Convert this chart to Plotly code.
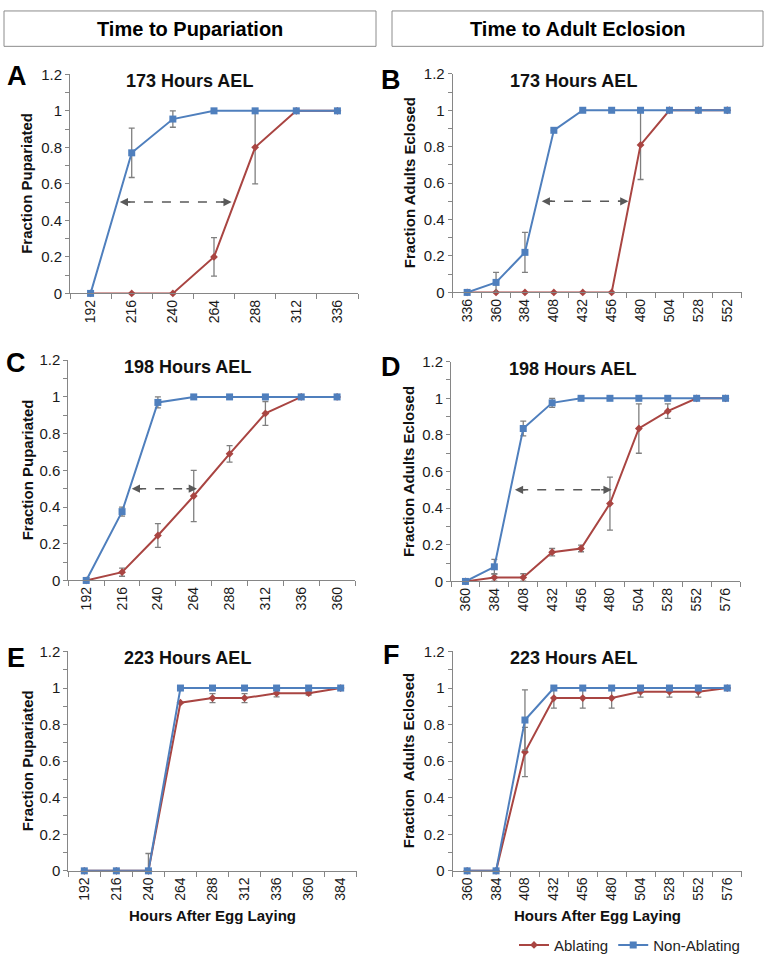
import plotly.graph_objects as go

W, H = 764, 965
FONT = "Liberation Sans, Arial, sans-serif"
RED = "#A94542"
BLUE = "#4F7FBD"
GREY = "#7F7F7F"
AXIS = "#868686"

# ---------------- data ----------------
# Panel A: pupariation, 173 h AEL
hours_A = ["192", "216", "240", "264", "288", "312", "336"]
abl_A = [0, 0, 0, 0.20, 0.80, 1.0, 1.0]
abl_A_err = [None, None, None, 0.105, 0.20, None, None]
non_A = [0, 0.77, 0.955, 1.0, 1.0, 1.0, 1.0]
non_A_err = [None, 0.135, 0.045, None, None, None, None]
arrow_A = [0.71, 3.43]

# Panel B: eclosion, 173 h AEL
hours_B = ["336", "360", "384", "408", "432", "456", "480", "504", "528", "552"]
abl_B = [0, 0, 0, 0, 0, 0, 0.81, 1.0, 1.0, 1.0]
abl_B_err = [None, None, None, None, None, None, 0.19, None, None, None]
non_B = [0, 0.055, 0.22, 0.89, 1.0, 1.0, 1.0, 1.0, 1.0, 1.0]
non_B_err = [None, 0.055, 0.11, None, None, None, None, None, None, None]
arrow_B = [2.58, 5.58]

# Panel C: pupariation, 198 h AEL
hours_C = ["192", "216", "240", "264", "288", "312", "336", "360"]
abl_C = [0, 0.045, 0.245, 0.46, 0.69, 0.91, 1.0, 1.0]
abl_C_err = [None, 0.022, 0.065, 0.14, 0.045, 0.065, None, None]
non_C = [0, 0.375, 0.97, 1.0, 1.0, 1.0, 1.0, 1.0]
non_C_err = [None, 0.025, 0.03, None, None, None, None, None]
arrow_C = [1.27, 3.09]

# Panel D: eclosion, 198 h AEL
hours_D = ["360", "384", "408", "432", "456", "480", "504", "528", "552", "576"]
abl_D = [0, 0.022, 0.022, 0.16, 0.18, 0.425, 0.835, 0.93, 1.0, 1.0]
abl_D_err = [None, 0.02, 0.02, 0.02, 0.018, 0.145, 0.135, 0.04, None, None]
non_D = [0, 0.08, 0.835, 0.975, 1.0, 1.0, 1.0, 1.0, 1.0, 1.0]
non_D_err = [None, 0.04, 0.04, 0.025, None, None, None, None, None, None]
arrow_D = [1.71, 5.06]

# Panel E: pupariation, 223 h AEL
hours_E = ["192", "216", "240", "264", "288", "312", "336", "360", "384"]
abl_E = [0, 0, 0, 0.92, 0.945, 0.945, 0.972, 0.972, 1.0]
abl_E_err = [None, None, 0.095, None, 0.025, 0.025, 0.02, 0.01, None]
non_E = [0, 0, 0, 1.0, 1.0, 1.0, 1.0, 1.0, 1.0]
non_E_err = [None] * 9

# Panel F: eclosion, 223 h AEL
hours_F = ["360", "384", "408", "432", "456", "480", "504", "528", "552", "576"]
abl_F = [0, 0, 0.65, 0.945, 0.945, 0.945, 0.98, 0.98, 0.98, 1.0]
abl_F_err = [None, None, 0.135, 0.055, 0.055, 0.055, 0.03, 0.03, 0.03, None]
non_F = [0, 0, 0.825, 1.0, 1.0, 1.0, 1.0, 1.0, 1.0, 1.0]
non_F_err = [None, None, 0.165, None, None, None, None, None, None, None]

panel_letters = ["A", "B", "C", "D", "E", "F"]
panel_titles = ["173 Hours AEL", "173 Hours AEL", "198 Hours AEL",
                "198 Hours AEL", "223 Hours AEL", "223 Hours AEL"]
y_titles = ["Fraction Pupariated", "Fraction Adults Eclosed",
            "Fraction Pupariated", "Fraction Adults Eclosed",
            "Fraction Pupariated", "Fraction  Adults Eclosed"]
column_headers = ["Time to Pupariation", "Time to Adult Eclosion"]
x_title = "Hours After Egg Laying"
series_names = ["Ablating", "Non-Ablating"]

panels = [
    (hours_A, abl_A, abl_A_err, non_A, non_A_err, arrow_A),
    (hours_B, abl_B, abl_B_err, non_B, non_B_err, arrow_B),
    (hours_C, abl_C, abl_C_err, non_C, non_C_err, arrow_C),
    (hours_D, abl_D, abl_D_err, non_D, non_D_err, arrow_D),
    (hours_E, abl_E, abl_E_err, non_E, non_E_err, None),
    (hours_F, abl_F, abl_F_err, non_F, non_F_err, None),
]

# ---------------- layout geometry (pixels) ----------------
# (x_left, x_right, y_top(1.2), y_bottom(0))
boxes = [
    (70, 358, 66.5, 289.5),
    (452.7, 741.7, 66, 288.5),
    (68.3, 355, 357.5, 581.7),
    (451, 740, 359, 582.7),
    (68.3, 356.7, 654, 877.3),
    (452.7, 741.7, 654, 877.3),
]
letter_pos = [(17, 68), (391, 72), (16, 360), (391, 364), (16, 661), (391, 658)]
ytitle_x = [27, 409, 27, 408.5, 27, 408]


def px(x):
    return x / W


def py(y):
    return 1 - y / H


fig = go.Figure()
annotations = []
shapes = []

for i, (cats, abl, abl_err, non, non_err, arrow) in enumerate(panels):
    k = "" if i == 0 else str(i + 1)
    xa, ya = "x" + k, "y" + k
    for name, vals, err, color, sym, size in [
        (series_names[0], abl, abl_err, RED, "diamond", 6),
        (series_names[1], non, non_err, BLUE, "square", 7),
    ]:
        minus = [None if e is None else min(e, v) for e, v in zip(err, vals)]
        fig.add_trace(go.Scatter(
            x=cats, y=vals, name=name, mode="lines+markers",
            xaxis=xa, yaxis=ya, legendgroup=name, showlegend=(i == 0),
            line=dict(color=color, width=2),
            marker=dict(symbol=sym, size=size, color=color),
            error_y=dict(type="data", array=err, arrayminus=minus, symmetric=False,
                         color=GREY, thickness=1.3, width=3),
            cliponaxis=False,
        ))
    x0, x1, yt, yb = boxes[i]
    last_row = i >= 4
    fig.layout["xaxis" + k] = dict(
        domain=[px(x0), px(x1)], anchor=ya, type="category",
        range=[-0.5, len(cats) - 0.5], tickson="boundaries",
        ticks="outside", ticklen=5, tickcolor=AXIS, tickangle=-90,
        showline=True, linecolor=AXIS, linewidth=1, showgrid=False, zeroline=False,
        tickfont=dict(family=FONT, size=14, color="#1a1a1a"), fixedrange=True,
    )
    fig.layout["yaxis" + k] = dict(
        domain=[py(yb), py(yt)], anchor=xa, range=[0, 1.2], dtick=0.2,
        ticks="outside", ticklen=4, tickcolor=AXIS,
        minor=dict(dtick=0.1, ticks="outside", ticklen=4, tickcolor=AXIS),
        showline=True, linecolor=AXIS, linewidth=1, showgrid=False, zeroline=False,
        tickfont=dict(family=FONT, size=15, color="#1a1a1a"), fixedrange=True,
    )
    # panel title
    annotations.append(dict(
        xref="paper", yref="paper", x=px(x0 + 119 if i % 2 == 0 else x0 + 121),
        y=py(yt + 7), text="<b>%s</b>" % panel_titles[i], showarrow=False,
        font=dict(family=FONT, size=18, color="#111"), xanchor="center", yanchor="middle"))
    # letter
    lx, ly = letter_pos[i]
    annotations.append(dict(
        xref="paper", yref="paper", x=px(lx), y=py(ly), text="<b>%s</b>" % panel_letters[i],
        showarrow=False, font=dict(family=FONT, size=27, color="#000"),
        xanchor="center", yanchor="middle"))
    # y title
    annotations.append(dict(
        xref="paper", yref="paper", x=px(ytitle_x[i]), y=py((yt + yb) / 2),
        text="<b>%s</b>" % y_titles[i], textangle=-90, showarrow=False,
        font=dict(family=FONT, size=15, color="#111"), xanchor="center", yanchor="middle"))
    if last_row:
        annotations.append(dict(
            xref="paper", yref="paper", x=px((x0 + x1) / 2 - 0), y=py(923),
            text="<b>%s</b>" % x_title, showarrow=False,
            font=dict(family=FONT, size=15, color="#111"), xanchor="center", yanchor="middle"))
    if arrow is not None:
        a0, a1 = arrow
        shapes.append(dict(type="line", xref=xa, yref=ya, x0=a0 + 0.15, x1=a1 - 0.15,
                           y0=0.5, y1=0.5, line=dict(color="#595959", width=1.5, dash="dash")))
        for tip, off in [(a0, 12), (a1, -12)]:
            annotations.append(dict(xref=xa, yref=ya, x=tip, y=0.5, ax=off, ay=0,
                                    text="", showarrow=True, arrowhead=2, arrowsize=1.1,
                                    arrowwidth=1.5, arrowcolor="#595959"))

# column headers
for (bx0, bx1), txt in zip([(4, 376), (392, 763)], column_headers):
    shapes.append(dict(type="rect", xref="paper", yref="paper",
                       x0=px(bx0), x1=px(bx1), y0=py(38), y1=py(2),
                       line=dict(color="#8C8C8C", width=1)))
    annotations.append(dict(xref="paper", yref="paper", x=px((bx0 + bx1) / 2), y=py(20),
                            text="<b>%s</b>" % txt, showarrow=False,
                            font=dict(family=FONT, size=20, color="#000"),
                            xanchor="center", yanchor="middle"))

fig.update_layout(
    width=W, height=H, autosize=False,
    margin=dict(l=0, r=0, t=0, b=0),
    paper_bgcolor="white", plot_bgcolor="white",
    annotations=annotations, shapes=shapes,
    legend=dict(orientation="h", x=px(745), xanchor="right", y=py(953), yanchor="middle",
                font=dict(family=FONT, size=15, color="#222"), itemwidth=30,
                bgcolor="rgba(0,0,0,0)", tracegroupgap=0),
    hovermode=False,
)

fig.write_html("out.html", config={"displayModeBar": False, "staticPlot": True},
               post_script="document.body.style.margin='0px';document.body.style.overflow='hidden';")
